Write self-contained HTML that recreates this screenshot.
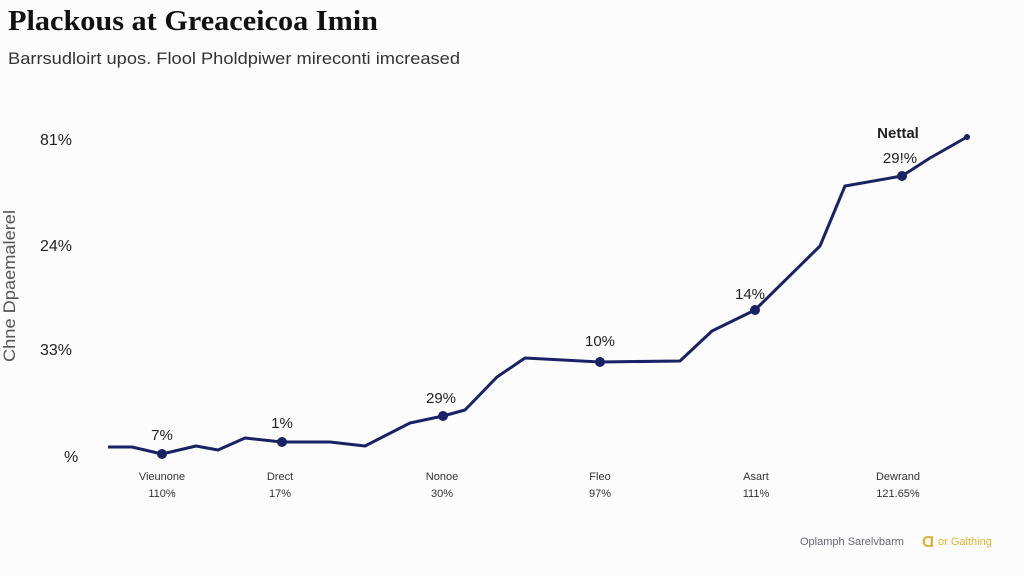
<!DOCTYPE html>
<html><head><meta charset="utf-8"><style>
body{margin:0;width:1024px;height:576px;background:#fcfcfc;overflow:hidden}
svg{display:block}
</style></head><body>
<svg width="1024" height="576" xmlns="http://www.w3.org/2000/svg">
<rect width="1024" height="576" fill="#fcfcfc"/>
<text x="8" y="30" font-family="Liberation Serif, serif" font-weight="bold" font-size="29" textLength="370" lengthAdjust="spacingAndGlyphs" fill="#111">Plackous at Greaceicoa Imin</text>
<text x="8" y="64" font-family="Liberation Sans, sans-serif" font-size="17" textLength="452" lengthAdjust="spacingAndGlyphs" fill="#333">Barrsudloirt upos. Flool Pholdpiwer mireconti imcreased</text>
<g font-family="Liberation Sans, sans-serif" font-size="16" fill="#222">
<text x="40" y="145">81%</text>
<text x="40" y="251">24%</text>
<text x="40" y="355">33%</text>
<text x="64" y="462">%</text>
</g>
<text transform="translate(15,362) rotate(-90)" font-family="Liberation Sans, sans-serif" font-size="17" textLength="152" lengthAdjust="spacingAndGlyphs" fill="#555">Chne Dpaemalerel</text>
<polyline fill="none" stroke="#1a2266" stroke-width="3" stroke-linejoin="round" points="108,447 132,447 162,454 196,446 218,450 245,438 282,442 330,442 365,446 410,423 443,416 465,410 497,377 525,358 600,362 680,361 712,331 755,310 820,246 845,186 902,176 930,158 967,137"/>
<g fill="#1a2266">
<circle cx="162" cy="454" r="5"/><circle cx="282" cy="442" r="5"/><circle cx="443" cy="416" r="5"/><circle cx="600" cy="362" r="5"/><circle cx="755" cy="310" r="5"/><circle cx="902" cy="176" r="5"/><circle cx="967" cy="137" r="3"/>
</g>
<g font-family="Liberation Sans, sans-serif" font-size="15" fill="#222" text-anchor="middle">
<text x="162" y="440">7%</text><text x="282" y="428">1%</text><text x="441" y="403">29%</text><text x="600" y="346">10%</text><text x="750" y="299">14%</text><text x="900" y="163">29!%</text>
<text x="898" y="138" font-weight="bold">Nettal</text>
</g>
<g font-family="Liberation Sans, sans-serif" font-size="11" fill="#333" text-anchor="middle">
<text x="162" y="480">Vieunone</text><text x="162" y="497">110%</text>
<text x="280" y="480">Drect</text><text x="280" y="497">17%</text>
<text x="442" y="480">Nonoe</text><text x="442" y="497">30%</text>
<text x="600" y="480">Fleo</text><text x="600" y="497">97%</text>
<text x="756" y="480">Asart</text><text x="756" y="497">111%</text>
<text x="898" y="480">Dewrand</text><text x="898" y="497">121.65%</text>
</g>
<text x="800" y="545" font-family="Liberation Sans, sans-serif" font-size="11" fill="#667">Oplamph Sarelvbarm</text>
<text x="922" y="547" font-family="Liberation Sans, sans-serif" font-size="16" font-weight="bold" fill="#e0b030">Ɑ</text>
<text x="938" y="545" font-family="Liberation Sans, sans-serif" font-size="11" fill="#e0b030">or Galthing</text>
</svg>
</body></html>
